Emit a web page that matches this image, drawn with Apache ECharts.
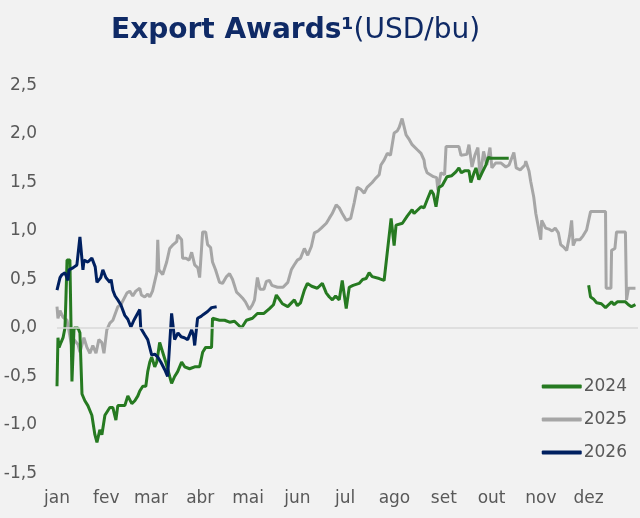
<!DOCTYPE html>
<html>
<head>
<meta charset="utf-8">
<script src="https://cdn.jsdelivr.net/npm/echarts@6/dist/echarts.min.js"></script>
<style>
  html, body { margin: 0; padding: 0; background: #f2f2f2; }
  #chart { width: 640px; height: 518px; }
</style>
</head>
<body>
<div id="chart"></div>
<script>
// month labels sit on the first day of each month (day of year)
const months = ['jan', 'fev', 'mar', 'abr', 'mai', 'jun', 'jul', 'ago', 'set', 'out', 'nov', 'dez'];
const monthStarts = [0, 31, 59, 90, 120, 151, 181, 212, 243, 273, 304, 334];

// [day of year, USD/bu]
const awards2024a = [
  [0,-0.6],[0.6,-0.1],[1.3,-0.2],[2.5,-0.15],[3.8,-0.1],[5,0.0],[5.6,0.3],[6.3,0.7],[8.1,0.7],[9.4,-0.55],
  [10.7,0.0],[13.2,0.0],[14.4,-0.05],[15.7,-0.68],[17.5,-0.75],[19.4,-0.8],[21.9,-0.9],[23.8,-1.1],[25.1,-1.18],
  [26.9,-1.05],[28.2,-1.1],[30.1,-0.9],[32,-0.85],[33.2,-0.82],[35.1,-0.82],[37,-0.95],[38.2,-0.8],[40.7,-0.8],
  [42.6,-0.8],[44.5,-0.7],[45.7,-0.7],[47,-0.78],[48.9,-0.75],[50.8,-0.7],[52,-0.65],[53.9,-0.6],[55.8,-0.6],
  [57,-0.45],[58.3,-0.35],[59.5,-0.3],[61.4,-0.4],[62.7,-0.35],[64.5,-0.15],[66.4,-0.25],[68.3,-0.35],[70.8,-0.5],
  [72,-0.57],[73.9,-0.5],[75.8,-0.45],[78.3,-0.35],[80.2,-0.4],[83.3,-0.42],[86.5,-0.4],[89.6,-0.4],[91.5,-0.25],
  [93.4,-0.2],[97.1,-0.2],[97.7,0.1],[102.1,0.08],[105.3,0.08],[108.4,0.06],[109.6,0.05],[111.5,0.07],[115.9,0.0],
  [119,0.08],[122.8,0.1],[125.9,0.15],[130,0.15],[133.5,0.2],[136,0.24],[137.8,0.34],[139.5,0.3],[141.6,0.25],
  [145,0.22],[149.1,0.29],[151,0.23],[153,0.26],[155.4,0.39],[157.3,0.46],[160,0.43],[163.5,0.41],[166.7,0.46],
  [169.2,0.36],[171.1,0.32],[173,0.29],[175,0.33],[177.3,0.29],[179.2,0.49],[181.7,0.2],[183.6,0.42],[186,0.44],
  [189.8,0.46],[192,0.5],[194.2,0.51],[196.1,0.57],[198,0.53],[202.4,0.51],[205.5,0.49],[209.9,1.13],[211.8,0.85],
  [213,1.06],[217,1.08],[219.9,1.15],[223.1,1.22],[224.3,1.18],[228.7,1.25],[230.6,1.24],[232.5,1.32],[235,1.42],
  [236.5,1.38],[238.1,1.25],[240,1.45],[242,1.47],[245,1.56],[248,1.57],[250.6,1.61],[252.5,1.65],[254,1.6],
  [256,1.62],[258.8,1.62],[260,1.5],[262,1.6],[263.2,1.65],[264,1.67],[265,1.53],[267,1.6],[269.4,1.68],
  [271,1.76],[272.6,1.75],[277.6,1.75],[283.8,1.75]
];
const awards2024b = [
  [334,0.44],[335.2,0.32],[337,0.3],[339,0.26],[342,0.25],[344.6,0.21],[346.5,0.24],[348.4,0.27],[350,0.24],
  [352,0.27],[357.1,0.27],[359,0.24],[360.9,0.22],[363.4,0.24]
];
const awards2025 = [
  [0,0.22],[0.6,0.1],[1.9,0.18],[3.8,0.11],[5,0.13],[6.3,0.08],[9.4,-0.2],[10.7,-0.12],[13.2,-0.17],[14.4,-0.25],
  [16.9,-0.1],[18.8,-0.2],[20.7,-0.26],[22.5,-0.18],[24.5,-0.26],[26.3,-0.12],[28.2,-0.15],[29.5,-0.26],[31.3,-0.02],
  [33.2,0.05],[35.1,0.08],[38.2,0.22],[40.1,0.24],[43.9,0.36],[45.7,0.38],[47.6,0.33],[49.5,0.38],[52,0.41],
  [53,0.34],[55.1,0.32],[57,0.35],[58.3,0.32],[60,0.38],[62.7,0.57],[63.3,0.91],[64,0.6],[66.4,0.55],[68.9,0.68],
  [70.8,0.82],[73,0.86],[75.2,0.89],[75.8,0.96],[78.3,0.91],[78.9,0.72],[81,0.72],[83,0.7],[84.6,0.78],[86.5,0.65],
  [88.5,0.62],[89.6,0.52],[91.5,0.99],[93.4,0.99],[94.6,0.86],[96.5,0.83],[97.7,0.68],[99.6,0.6],[102.1,0.47],
  [104,0.46],[106.5,0.53],[108.4,0.56],[110.3,0.5],[112.8,0.37],[114.7,0.34],[116.5,0.31],[118.4,0.27],[120.9,0.19],
  [122.8,0.24],[124.1,0.29],[125.9,0.52],[127.5,0.4],[130,0.4],[131.5,0.48],[133.5,0.49],[135,0.44],[138.5,0.42],
  [142,0.42],[145,0.47],[147.2,0.6],[149,0.65],[151,0.7],[153,0.72],[155.4,0.82],[157.5,0.75],[159.8,0.84],
  [161.7,0.98],[164,1.0],[166,1.03],[169.2,1.08],[171,1.13],[172.9,1.18],[175.4,1.27],[177.3,1.24],[179.2,1.18],
  [181.7,1.11],[184.5,1.13],[186.7,1.29],[188.6,1.45],[190.8,1.43],[193,1.39],[194.8,1.45],[198,1.5],[200,1.54],
  [202.4,1.58],[203.5,1.68],[205.5,1.73],[207.5,1.8],[209.5,1.78],[211.8,2.01],[213.7,2.03],[215,2.07],[216.8,2.16],
  [219.3,1.99],[221,1.95],[223.1,1.89],[226.2,1.84],[228.7,1.8],[230.6,1.73],[231.2,1.66],[232.5,1.6],[234.5,1.58],
  [236.5,1.56],[238.5,1.55],[239.3,1.42],[241.2,1.6],[243.5,1.58],[244.4,1.87],[252.5,1.87],[253.8,1.78],[257.5,1.79],
  [258.8,1.89],[260.7,1.66],[262.5,1.78],[264.4,1.86],[265.8,1.56],[268,1.82],[270,1.68],[272,1.86],[273.2,1.65],
  [275.5,1.7],[279,1.7],[282,1.66],[284,1.68],[287,1.81],[288.5,1.65],[291,1.63],[294,1.68],[294.5,1.72],
  [296.5,1.62],[297.6,1.51],[299.5,1.35],[300.8,1.18],[302,1.2],[303.9,0.91],[304.5,1.11],[307,1.03],[309,1.02],
  [311,1.0],[313,1.03],[315,0.98],[316.4,0.86],[318.5,0.83],[320.2,0.8],[322,0.95],[323.3,1.11],[324.3,0.85],
  [325.8,0.91],[328.5,0.91],[330.5,0.95],[332.7,1.01],[334,1.11],[335.2,1.2],[344.6,1.2],[345,0.41],[348,0.41],
  [348.4,0.8],[350.5,0.82],[351.5,0.99],[357.1,0.99],[357.8,0.29],[359,0.41],[363.4,0.41]
];
const awards2026 = [
  [0,0.39],[1.9,0.52],[3.1,0.55],[5,0.57],[6.9,0.49],[7.5,0.6],[10,0.62],[12.5,0.65],[14.4,0.94],[15.3,0.94],
  [16.3,0.6],[17,0.7],[19.4,0.68],[21.9,0.72],[24,0.63],[25.1,0.47],[27.5,0.52],[28.8,0.6],[30.7,0.52],[33.2,0.47],
  [34,0.5],[35.1,0.39],[36.5,0.33],[38.2,0.29],[40.1,0.24],[42.6,0.13],[44.5,0.09],[46.4,0.01],[48.3,0.08],
  [49.5,0.09],[52,0.19],[52.6,0.0],[55.1,-0.07],[57,-0.12],[59.5,-0.28],[61.4,-0.27],[63.3,-0.3],[65.2,-0.35],
  [67.7,-0.43],[69.5,-0.5],[72,0.15],[73,0.15],[73.9,-0.12],[76,-0.05],[78,-0.09],[80,-0.1],[82.1,-0.12],
  [84.6,-0.02],[85.8,-0.08],[86.5,-0.18],[88.3,0.1],[90.5,0.12],[92,0.14],[94.6,0.17],[97.1,0.21],[100.3,0.22]
];

const colors = { y2024: '#267a21', y2025: '#a6a6a6', y2026: '#002060' };
const titleFont = '"DejaVu Sans", sans-serif';
const labelFont = '"DejaVu Sans", sans-serif';

var chart = echarts.init(document.getElementById('chart'));

function lineSeries(name, data, color, extra) {
  return Object.assign({
    name: name,
    type: 'line',
    data: data,
    symbol: 'none',
    smooth: false,
    lineStyle: { color: color, width: 3 },
    itemStyle: { color: color },
    emphasis: { disabled: true }
  }, extra || {});
}

var option = {
  backgroundColor: '#f2f2f2',
  animation: false,
  title: {
    text: '{b|Export Awards¹}{n|(USD/bu)}',
    left: 106,
    top: 12,
    textStyle: {
      rich: {
        b: { fontFamily: titleFont, fontSize: 28, fontWeight: 'bold', color: '#0f2a66' },
        n: { fontFamily: titleFont, fontSize: 28, fontWeight: 'normal', color: '#0f2a66' }
      }
    }
  },
  grid: { left: 57, right: 2, top: 85.5, bottom: 44.5 },
  legend: {
    data: ['2024', '2025', '2026'],
    orient: 'vertical',
    right: 8,
    top: 373,
    icon: 'roundRect',
    itemWidth: 40,
    itemHeight: 4,
    itemGap: 16,
    textStyle: { fontFamily: labelFont, fontSize: 17, color: '#595959', padding: [0, 0, 0, -3], lineHeight: 17 }
  },
  xAxis: {
    type: 'value',
    min: 0,
    max: 365,
    axisLine: { show: false },
    axisTick: { show: false },
    splitLine: { show: false },
    axisLabel: {
      customValues: monthStarts,
      formatter: function (v) { return months[monthStarts.indexOf(v)]; },
      color: '#595959',
      fontFamily: labelFont,
      fontSize: 17,
      margin: 17
    }
  },
  yAxis: {
    type: 'value',
    min: -1.5,
    max: 2.5,
    interval: 0.5,
    axisLine: { show: false },
    axisTick: { show: false },
    splitLine: { show: false },
    axisLabel: {
      formatter: function (v) { return v.toFixed(1).replace('.', ','); },
      color: '#595959',
      fontFamily: labelFont,
      fontSize: 17,
      margin: 20
    }
  },
  series: [
    lineSeries('2025', awards2025, colors.y2025, {
      markLine: {
        silent: true,
        symbol: 'none',
        label: { show: false },
        lineStyle: { color: '#d9d9d9', type: 'solid', width: 1.5 },
        data: [{ yAxis: 0 }]
      }
    }),
    lineSeries('2024', awards2024a, colors.y2024),
    lineSeries('2024', awards2024b, colors.y2024),
    lineSeries('2026', awards2026, colors.y2026)
  ]
};

chart.setOption(option);
</script>
</body>
</html>
